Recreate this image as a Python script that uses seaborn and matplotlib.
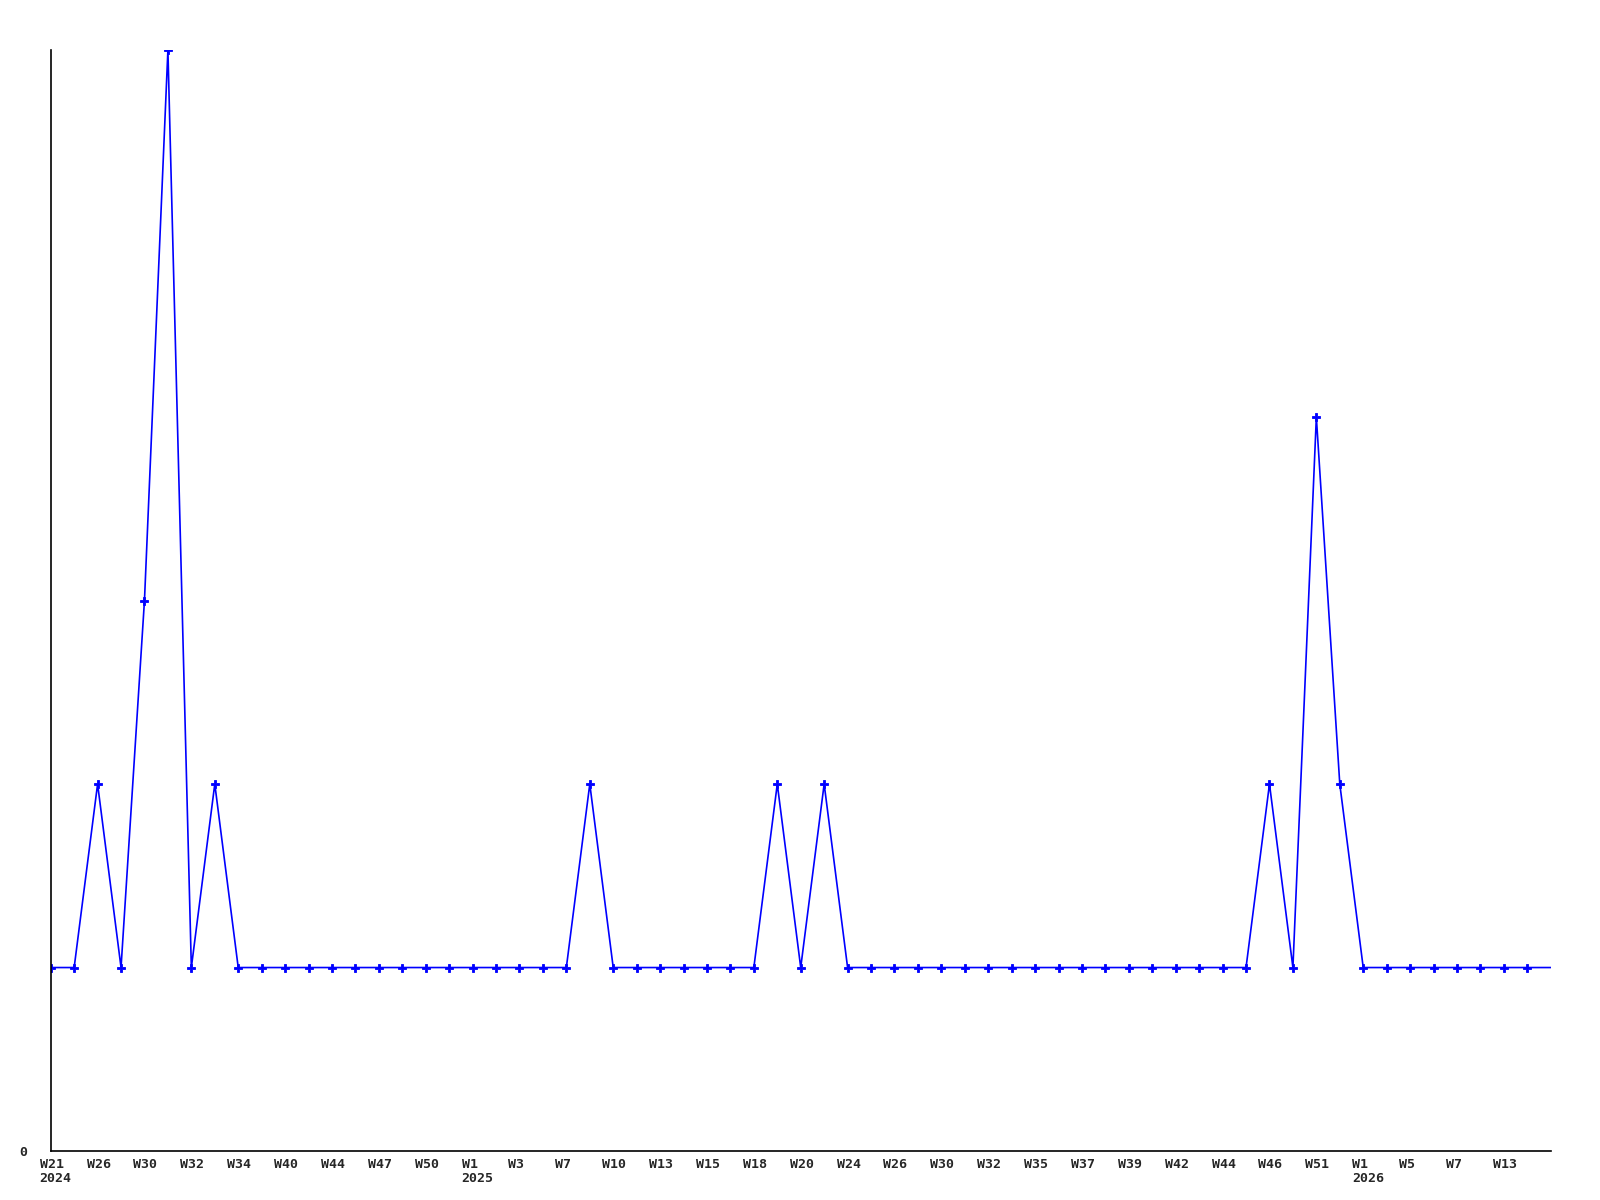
import seaborn as sns
import pandas as pd
import matplotlib.pyplot as plt

# weekly counts (last point has no marker)
counts = [1, 1, 2, 1, 3, 6, 1, 2, 1, 1, 1, 1, 1, 1, 1, 1, 1, 1, 1, 1, 1, 1, 1, 2,
          1, 1, 1, 1, 1, 1, 1, 2, 1, 2, 1, 1, 1, 1, 1, 1, 1, 1, 1, 1, 1, 1, 1, 1,
          1, 1, 1, 1, 2, 1, 4, 2, 1, 1, 1, 1, 1, 1, 1, 1, 1]
week_labels = ['W21\n2024', 'W26', 'W30', 'W32', 'W34', 'W40', 'W44', 'W47', 'W50',
               'W1\n2025', 'W3', 'W7', 'W10', 'W13', 'W15', 'W18', 'W20', 'W24', 'W26',
               'W30', 'W32', 'W35', 'W37', 'W39', 'W42', 'W44', 'W46', 'W51',
               'W1\n2026', 'W5', 'W7', 'W13']

df = pd.DataFrame({'idx': range(len(counts)), 'count': counts})

sns.set_style('white')
plt.rcParams['font.family'] = ['DejaVu Sans Mono']

fig = plt.figure(figsize=(16, 12), dpi=100)
ax = fig.add_axes([0.0317, 0.0408, 0.9375, 0.9175])

sns.lineplot(x='idx', y='count', data=df, ax=ax, color='#0000ff', linewidth=1.2,
             marker='P', markersize=5.5, markeredgewidth=0.6, markeredgecolor='#0000ff',
             markevery=list(range(len(counts) - 1)))

ax.set_xlabel('')
ax.set_ylabel('')
ax.set_xlim(0, len(counts) - 1)
ax.set_ylim(0, 6)

# week labels every second point, starting a little left of the point
ax.set_xticks([])
for k, lab in enumerate(week_labels):
    ax.text(2 * k - 0.47, -0.006, lab, transform=ax.get_xaxis_transform(),
            ha='left', va='top', fontsize=9.5, fontweight='bold',
            linespacing=1.15, clip_on=False)

ax.set_yticks([0])
ax.set_yticklabels(['0'], fontsize=9.5, fontweight='bold')
ax.tick_params(axis='y', length=0, pad=17)

for s in ['top', 'right']:
    ax.spines[s].set_visible(False)
for s in ['left', 'bottom']:
    ax.spines[s].set_color('black')
    ax.spines[s].set_linewidth(1.2)

fig.savefig('out.png', dpi=100)
